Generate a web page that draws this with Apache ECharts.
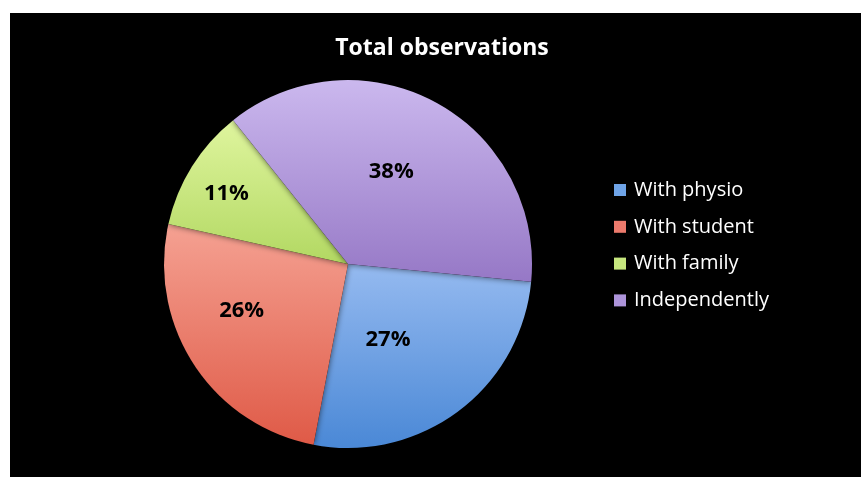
<!DOCTYPE html>
<html>
<head>
<meta charset="utf-8">
<script src="https://cdn.jsdelivr.net/npm/echarts@6/dist/echarts.min.js"></script>
<style>
  html, body { margin: 0; padding: 0; background: #ffffff; width: 861px; height: 477px; overflow: hidden; }
  #chart { position: absolute; left: 10px; top: 13px; width: 851px; height: 464px; background: #000000; }
</style>
</head>
<body>
<div id="chart"></div>
<script>
const titleText = 'Total observations';
const categories = ['With physio', 'With student', 'With family', 'Independently'];
const values = [27, 26, 11, 38];

const gradients = [
  ['#95baf0', '#4a88d6'],
  ['#f5a192', '#df5a47'],
  ['#dff59e', '#b2d862'],
  ['#cbb8ee', '#9678c6']
];
const legendColors = ['#6ea3e6', '#ec7a6c', '#c6e67e', '#ad94da'];
const labelShift = [[-17, 0], [-27, -5], [-41, -20], [-2, -9]];

const chart = echarts.init(document.getElementById('chart'));
const data = categories.map((name, i) => ({
  name: name,
  value: values[i],
  itemStyle: {
    color: new echarts.graphic.LinearGradient(0, 0, 0, 1, [
      { offset: 0, color: gradients[i][0] },
      { offset: 1, color: gradients[i][1] }
    ])
  }
}));

chart.setOption({
  backgroundColor: '#000000',
  animation: false,
  title: {
    text: titleText,
    left: 427,
    textAlign: 'center',
    top: 19,
    textStyle: { color: '#ffffff', fontSize: 23, fontWeight: 'bold', fontFamily: 'Open Sans' }
  },
  legend: {
    orient: 'vertical',
    left: 599,
    top: 162,
    itemWidth: 12,
    itemHeight: 12,
    itemGap: 16.8,
    icon: 'rect',
    data: categories.map((c, i) => ({ name: c, itemStyle: { color: legendColors[i] } })),
    textStyle: { color: '#ffffff', fontSize: 20, fontFamily: 'Open Sans', padding: [0, 0, 0, 3] }
  },
  series: [{
    type: 'pie',
    center: [338, 251],
    radius: 184,
    startAngle: -5.5,
    clockwise: true,
    data: data,
    itemStyle: { borderWidth: 0, shadowBlur: 6, shadowColor: 'rgba(0,0,0,0.6)' },
    label: {
      show: true,
      position: 'inside',
      formatter: p => p.value + '%',
      color: '#000000',
      fontSize: 22,
      fontWeight: 'bold',
      fontFamily: 'Open Sans'
    },
    labelLine: { show: false },
    labelLayout: p => ({ dx: labelShift[p.dataIndex][0], dy: labelShift[p.dataIndex][1] }),
    emphasis: { disabled: true }
  }]
});
</script>
</body>
</html>
